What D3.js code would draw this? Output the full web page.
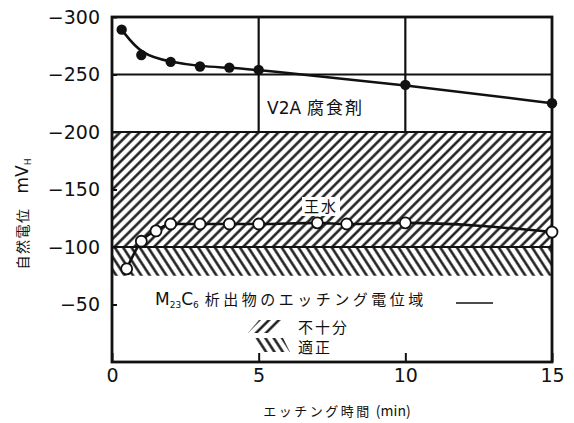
<!DOCTYPE html>
<html><head><meta charset="utf-8">
<script src="https://cdn.jsdelivr.net/npm/d3@7"></script>
<style>
html,body{margin:0;padding:0;background:#fff;}
svg{display:block;}
</style></head><body>
<svg id="chart" width="574" height="423"></svg>
<script>
// Natural potential (mV_H) against etching time (min)
const v2aTimes = [0.33, 1, 2, 3, 4, 5, 10, 15];
const v2aPotentials = [-289, -267, -261, -257, -256, -254, -241, -225];
const aquaTimes = [0.5, 1, 1.5, 2, 3, 4, 5, 7, 8, 10, 15];
const aquaPotentials = [-81, -105, -114, -120, -120, -120, -120, -121, -120, -121, -113];
const xTicks = [0, 5, 10, 15];
const yTicks = [-300, -250, -200, -150, -100, -50];
// etching potential bands for M23C6 precipitates
const insufficientBand = [-200, -100];
const properBand = [-100, -75];

const ink = "#111";
const svg = d3.select("#chart");
const x = d3.scaleLinear().domain([0, 15]).range([112, 552]);
const y = d3.scaleLinear().domain([0, -300]).range([362, 17]);
const jp = "'Noto Sans CJK JP', sans-serif";
const num = "'DejaVu Sans', sans-serif";

const defs = svg.append("defs");
function hatch(id, angle, gap, w) {
  const p = defs.append("pattern").attr("id", id)
    .attr("patternUnits", "userSpaceOnUse")
    .attr("width", gap).attr("height", gap)
    .attr("patternTransform", `rotate(${angle})`);
  p.append("line").attr("x1", gap / 2).attr("x2", gap / 2)
    .attr("y1", -1).attr("y2", gap + 1)
    .attr("stroke", ink).attr("stroke-width", w);
}
hatch("slash", 45, 7, 2.4);
hatch("backslash", -33, 7, 2.4);

// hatched bands
svg.append("rect")
  .attr("x", x(0)).attr("width", x(15) - x(0))
  .attr("y", y(insufficientBand[0])).attr("height", y(insufficientBand[1]) - y(insufficientBand[0]))
  .attr("fill", "url(#slash)");
svg.append("rect")
  .attr("x", x(0)).attr("width", x(15) - x(0))
  .attr("y", y(properBand[0])).attr("height", y(properBand[1]) - y(properBand[0]))
  .attr("fill", "url(#backslash)");

// grid lines
const gridH = [-250, -200, -100];
svg.append("g").selectAll("line").data(gridH).join("line")
  .attr("x1", x(0)).attr("x2", x(15))
  .attr("y1", d => y(d)).attr("y2", d => y(d))
  .attr("stroke", ink).attr("stroke-width", 2.2);
const gridV = [5, 10];
svg.append("g").selectAll("line").data(gridV).join("line")
  .attr("x1", d => x(d)).attr("x2", d => x(d))
  .attr("y1", y(-300)).attr("y2", y(-200))
  .attr("stroke", ink).attr("stroke-width", 2.2);

// frame
svg.append("rect")
  .attr("x", x(0)).attr("y", y(-300))
  .attr("width", x(15) - x(0)).attr("height", y(0) - y(-300))
  .attr("fill", "none").attr("stroke", ink).attr("stroke-width", 2.8);

// axes
const yAxis = svg.append("g").attr("transform", `translate(${x(0)},0)`)
  .call(d3.axisLeft(y).tickValues(yTicks).tickSize(-5).tickPadding(12).tickFormat(d3.format("d")));
const xAxis = svg.append("g").attr("transform", `translate(0,${y(0)})`)
  .call(d3.axisBottom(x).tickValues(xTicks).tickSize(-9).tickPadding(7).tickFormat(d3.format("d")));
[yAxis, xAxis].forEach(g => {
  g.select(".domain").remove();
  g.selectAll(".tick line").attr("stroke", ink).attr("stroke-width", 2);
  g.selectAll(".tick text").attr("fill", ink).attr("font-family", num).attr("font-size", 19);
});

// label "王水" sits on a cleared patch of the hatch
svg.append("rect").attr("x", 302).attr("y", 197).attr("width", 38).attr("height", 19).attr("fill", "#fff");
svg.append("text").attr("x", 321).attr("y", 212).attr("text-anchor", "middle")
  .attr("font-family", jp).attr("font-size", 15).attr("letter-spacing", 2).attr("fill", ink)
  .text("王水");

// series lines
const v2aData = v2aTimes.map((t, i) => [t, v2aPotentials[i]]);
const aquaData = aquaTimes.map((t, i) => [t, aquaPotentials[i]]);
svg.append("path").datum(v2aData)
  .attr("d", d3.line().x(d => x(d[0])).y(d => y(d[1])).curve(d3.curveBasis))
  .attr("fill", "none").attr("stroke", ink).attr("stroke-width", 2.5);
svg.append("path").datum(aquaData)
  .attr("d", d3.line().x(d => x(d[0])).y(d => y(d[1])).curve(d3.curveMonotoneX))
  .attr("fill", "none").attr("stroke", ink).attr("stroke-width", 2.6);

// markers
svg.append("g").selectAll("circle").data(v2aData).join("circle")
  .attr("cx", d => x(d[0])).attr("cy", d => y(d[1])).attr("r", 5.2)
  .attr("fill", ink);
svg.append("g").selectAll("circle").data(aquaData).join("circle")
  .attr("cx", d => x(d[0])).attr("cy", d => y(d[1])).attr("r", 5.5)
  .attr("fill", "#fff").attr("stroke", ink).attr("stroke-width", 1.8);

// annotations
const v2a = svg.append("text").attr("x", 267).attr("y", 114).attr("fill", ink);
v2a.append("tspan").attr("font-family", num).attr("font-size", 17).text("V2A");
v2a.append("tspan").attr("dx", 6).attr("font-family", jp).attr("font-size", 17).attr("letter-spacing", 2).text("腐食剤");

const m = svg.append("text").attr("x", 155).attr("y", 305).attr("fill", ink);
m.append("tspan").attr("font-family", num).attr("font-size", 17).text("M");
m.append("tspan").attr("font-family", num).attr("font-size", 9).attr("dy", 3).text("23");
m.append("tspan").attr("font-family", num).attr("font-size", 17).attr("dy", -3).text("C");
m.append("tspan").attr("font-family", num).attr("font-size", 9).attr("dy", 3).text("6");
m.append("tspan").attr("font-family", jp).attr("font-size", 15).attr("dy", -3).attr("dx", 6)
  .attr("letter-spacing", 3.5).text("析出物のエッチング電位域");

svg.append("line").attr("x1", 456).attr("x2", 493).attr("y1", 303).attr("y2", 303)
  .attr("stroke", ink).attr("stroke-width", 1.5);

// legend
svg.append("polygon").attr("points", "248,333 259,320 283,320 272,333").attr("fill", "url(#slash)");
svg.append("polygon").attr("points", "255,338 283,338 290,352 262,352").attr("fill", "url(#backslash)");
svg.append("text").attr("x", 298).attr("y", 333).attr("font-family", jp).attr("font-size", 15)
  .attr("letter-spacing", 2).attr("fill", ink).text("不十分");
svg.append("text").attr("x", 298).attr("y", 353).attr("font-family", jp).attr("font-size", 15)
  .attr("letter-spacing", 2).attr("fill", ink).text("適正");

// axis titles
const yt = svg.append("text").attr("transform", "translate(28,214) rotate(-90)")
  .attr("text-anchor", "middle").attr("fill", ink);
yt.append("tspan").attr("font-family", jp).attr("font-size", 14).attr("letter-spacing", 1.5).text("自然電位");
yt.append("tspan").attr("dx", 14).attr("font-family", num).attr("font-size", 17).text("mV");
yt.append("tspan").attr("font-family", num).attr("font-size", 9).attr("dy", 3).text("H");

const xt = svg.append("text").attr("x", 337).attr("y", 416).attr("text-anchor", "middle").attr("fill", ink);
xt.append("tspan").attr("font-family", jp).attr("font-size", 13).attr("letter-spacing", 2.5).text("エッチング時間");
xt.append("tspan").attr("dx", 4).attr("font-family", jp).attr("font-size", 14).text("(min)");
</script>
</body></html>
